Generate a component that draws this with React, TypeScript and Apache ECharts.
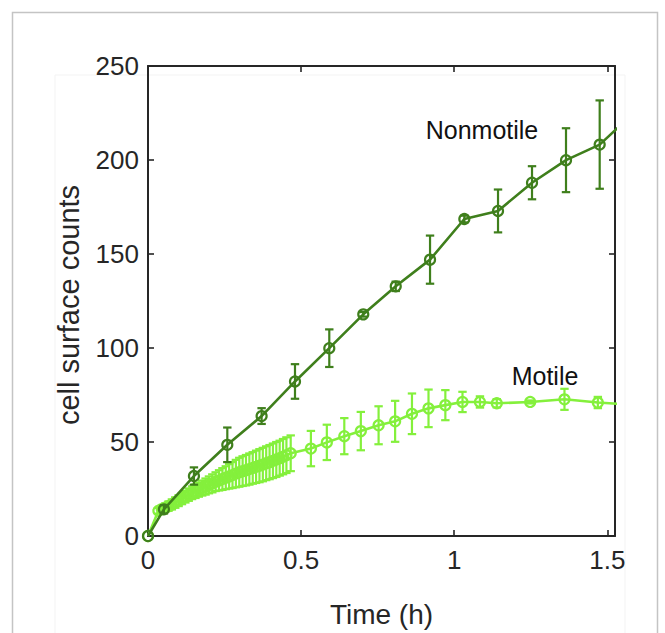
import React, { useEffect, useRef } from "react";
import * as echarts from "echarts";

// ---- data ----
const nonmotileT = [0, 0.052, 0.15, 0.259, 0.371, 0.48, 0.592, 0.703, 0.809, 0.921, 1.033, 1.143, 1.254, 1.365, 1.475, 1.586];
const nonmotileV = [0, 14.2, 31.9, 48.5, 63.8, 82.2, 99.9, 117.9, 132.8, 147.0, 168.6, 172.9, 187.9, 199.9, 208.2, 225];
const nonmotileE = [0, 2.2, 4.6, 9.2, 4.2, 9.2, 10.0, 1.2, 2.5, 12.8, 1.8, 11.4, 8.8, 17.0, 23.5, 0];

const motileT = [
  0, 0.034, 0.045, 0.056, 0.067, 0.078, 0.089, 0.1, 0.111, 0.122, 0.133, 0.144, 0.155, 0.166, 0.177, 0.188,
  0.199, 0.21, 0.221, 0.232, 0.243, 0.254, 0.265, 0.276, 0.287, 0.298, 0.309, 0.32, 0.331, 0.342,
  0.353, 0.364, 0.375, 0.386, 0.397, 0.408, 0.419, 0.43, 0.441, 0.452, 0.466,
  0.532, 0.584, 0.641, 0.695, 0.753, 0.807, 0.862, 0.916, 0.971, 1.027, 1.084, 1.139, 1.248, 1.36, 1.469, 1.58,
];
const motileV = [
  0, 13.4, 14.3, 15.1, 15.9, 16.8, 17.8, 18.8, 19.9, 20.9, 22.0, 23.0, 23.8, 24.7, 25.5, 26.3,
  27.2, 28.0, 28.9, 29.6, 30.3, 31.0, 31.7, 32.4, 33.2, 33.9, 34.5, 35.0, 35.6, 36.2,
  36.8, 37.4, 38.0, 38.7, 39.3, 40.0, 40.7, 41.4, 42.2, 43.0, 44.0,
  46.5, 49.8, 53.1, 55.8, 58.9, 61.0, 65.0, 67.9, 69.6, 71.3, 71.3, 70.6, 71.3, 72.7, 71.0, 69.8,
];
const motileE = [
  0, 1.5, 1.8, 2.2, 2.5, 2.7, 2.8, 2.9, 3.0, 3.1, 3.3, 3.4, 3.6, 3.8, 4.0, 4.3,
  4.5, 4.8, 5.0, 5.4, 5.8, 6.1, 6.5, 6.9, 7.3, 7.7, 7.9, 8.1, 8.3, 8.4,
  8.6, 8.8, 8.9, 9.0, 9.1, 9.2, 9.3, 9.3, 9.4, 9.5, 9.5,
  9.4, 9.4, 9.6, 10.2, 10.1, 10.9, 10.8, 10.0, 8.0, 5.4, 3.0, 2.2, 0.8, 5.6, 3.0, 0,
];

const xTickValues = [0, 0.5, 1, 1.5];
const yTickValues = [0, 50, 100, 150, 200, 250];

const DARK = "#3F7F1C";
const LIGHT = "#84F03C";
const AXIS = "#262626";
const FONT = "'Liberation Sans', Arial, Helvetica, sans-serif";

function errorSeries(t: number[], v: number[], e: number[], color: string, z: number) {
  return {
    type: "custom",
    z,
    xAxisIndex: 0,
    yAxisIndex: 0,
    data: t.map((x, i) => [x, v[i], e[i]]),
    encode: { x: 0, y: 1 },
    clip: true,
    silent: true,
    renderItem: (_params: any, api: any) => {
      const x = api.value(0);
      const y = api.value(1);
      const err = api.value(2);
      if (!err) return null;
      const lo = api.coord([x, y - err]);
      const hi = api.coord([x, y + err]);
      const w = 4.2;
      const style = { stroke: color, lineWidth: 2.2, fill: "none" };
      return {
        type: "group",
        children: [
          { type: "line", shape: { x1: lo[0], y1: lo[1], x2: hi[0], y2: hi[1] }, style },
          { type: "line", shape: { x1: lo[0] - w, y1: lo[1], x2: lo[0] + w, y2: lo[1] }, style },
          { type: "line", shape: { x1: hi[0] - w, y1: hi[1], x2: hi[0] + w, y2: hi[1] }, style },
        ],
      };
    },
  };
}

function lineSeries(name: string, t: number[], v: number[], color: string, z: number) {
  return {
    name,
    type: "line",
    z,
    xAxisIndex: 0,
    yAxisIndex: 0,
    data: t.map((x, i) => [x, v[i]]),
    clip: true,
    symbol: "circle",
    symbolSize: 10,
    showSymbol: true,
    showAllSymbol: true,
    lineStyle: { color, width: 2.6 },
    itemStyle: { color: "rgba(255,255,255,0)", borderColor: color, borderWidth: 2.2 },
    emphasis: { disabled: true },
  };
}

export default function App() {
  const ref = useRef<HTMLDivElement>(null);
  useEffect(() => {
    if (!ref.current) return;
    const chart = echarts.init(ref.current, undefined, { renderer: "svg" });
    const axisCommon = {
      type: "value",
      axisLine: { show: true, onZero: false, lineStyle: { color: AXIS, width: 2 } },
      axisTick: { show: true, inside: true, length: 6, lineStyle: { color: AXIS, width: 1.6 } },
      splitLine: { show: false },
    };
    chart.setOption({
      animation: false,
      backgroundColor: "#ffffff",
      grid: { left: 148, top: 66, width: 467, height: 485, containLabel: false },
      xAxis: [
        {
          ...axisCommon,
          position: "bottom",
          min: xTickValues[0],
          max: 1.525,
          interval: 0.5,
          axisLabel: {
            show: true,
            margin: 11,
            fontSize: 26,
            color: AXIS,
            fontFamily: FONT,
            formatter: (val: number) => (xTickValues.includes(val) ? String(val) : ""),
          },
          name: "Time (h)",
          nameLocation: "middle",
          nameGap: 64,
          nameTextStyle: { fontSize: 28, color: AXIS, fontFamily: FONT, verticalAlign: "top" },
        },
        {
          ...axisCommon,
          position: "top",
          min: xTickValues[0],
          max: 1.525,
          interval: 0.5,
          axisLabel: { show: false },
        },
      ],
      yAxis: [
        {
          ...axisCommon,
          position: "left",
          min: yTickValues[0],
          max: yTickValues[yTickValues.length - 1],
          interval: 50,
          axisLabel: { show: true, margin: 9, fontSize: 26, color: AXIS, fontFamily: FONT },
        },
        {
          ...axisCommon,
          position: "right",
          min: yTickValues[0],
          max: yTickValues[yTickValues.length - 1],
          interval: 50,
          axisLabel: { show: false },
        },
      ],
      graphic: [
        {
          type: "rect",
          z: -10,
          silent: true,
          shape: { x: 12.5, y: 12.5, width: 645, height: 640 },
          style: { fill: "none", stroke: "#c4c4c4", lineWidth: 1.5 },
        },
        {
          type: "rect",
          z: -10,
          silent: true,
          shape: { x: 55, y: 75, width: 570, height: 600 },
          style: { fill: "none", stroke: "#f3f3f3", lineWidth: 1 },
        },
        {
          type: "text",
          x: 69,
          y: 305,
          rotation: Math.PI / 2,
          silent: true,
          style: {
            text: "cell surface counts",
            fontSize: 29,
            fontFamily: FONT,
            fill: AXIS,
            textAlign: "center",
            textVerticalAlign: "middle",
          },
        },
        {
          type: "text",
          x: 482,
          y: 130,
          silent: true,
          style: {
            text: "Nonmotile",
            fontSize: 25,
            fontFamily: FONT,
            fill: "#111111",
            textAlign: "center",
            textVerticalAlign: "middle",
          },
        },
        {
          type: "text",
          x: 545,
          y: 376,
          silent: true,
          style: {
            text: "Motile",
            fontSize: 25,
            fontFamily: FONT,
            fill: "#111111",
            textAlign: "center",
            textVerticalAlign: "middle",
          },
        },
      ],
      series: [
        lineSeries("Motile", motileT, motileV, LIGHT, 2),
        errorSeries(motileT, motileV, motileE, LIGHT, 2),
        lineSeries("Nonmotile", nonmotileT, nonmotileV, DARK, 4),
        errorSeries(nonmotileT, nonmotileV, nonmotileE, DARK, 4),
      ],
    });
    return () => chart.dispose();
  }, []);
  return (
    <div
      ref={ref}
      style={{ position: "absolute", left: 0, top: 0, width: 665, height: 633, background: "#fff" }}
    />
  );
}
